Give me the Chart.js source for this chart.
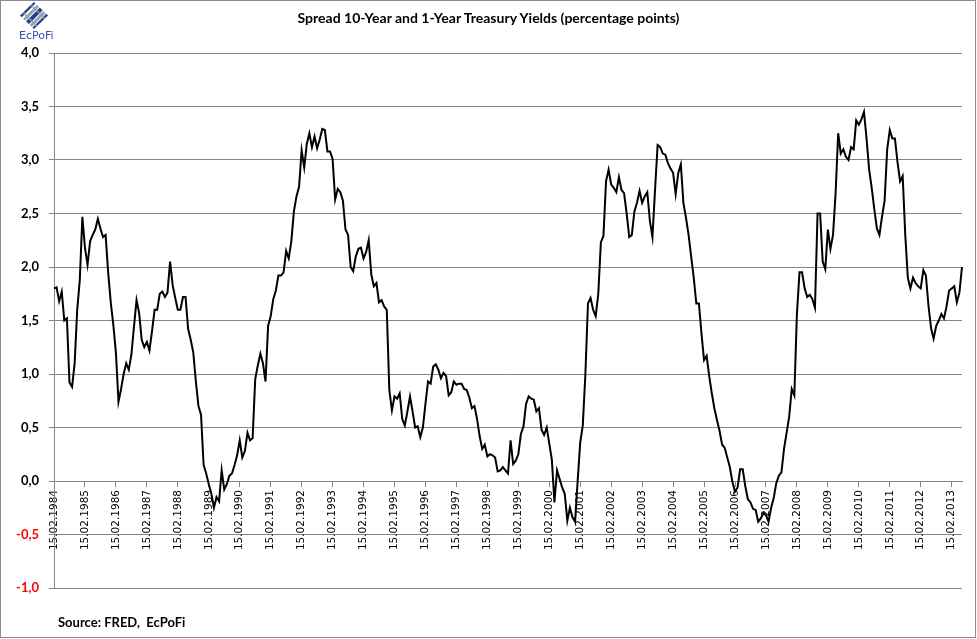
<!DOCTYPE html>
<html lang="en">
<head>
    <meta charset="UTF-8">
    <title>Spread 10-Year and 1-Year Treasury Yields</title>
    <script src="https://cdn.jsdelivr.net/npm/chart.js"></script>
    <style>
        body { margin: 0; background: #fff; }
        #wrap { position: relative; width: 977px; height: 639px; }
        #frame { position: absolute; left: 0; top: 0; width: 974px; height: 636px; border: 1px solid #8c8c8c; }
        #title { position: absolute; top: 9px; left: 0; width: 977px; text-align: center; font: bold 14px Lato, sans-serif; color: #000; }
        #source { position: absolute; left: 58px; top: 614px; font: bold 13px Lato, sans-serif; color: #000; }
        #logo { position: absolute; left: 20px; top: 2px; }
        #logoText { position: absolute; left: 19px; top: 29px; font: 11px "DejaVu Sans", sans-serif; color: #2f52a8; }
        canvas { position: absolute; left: 0; top: 0; }
    </style>
</head>
<body>
<div id="wrap">
    <div id="frame"></div>
    <canvas id="spreadChart" width="977" height="639"></canvas>
    <div id="title">Spread 10-Year and 1-Year Treasury Yields (percentage points)</div>
    <div id="source">Source: FRED,&nbsp; EcPoFi</div>
    <svg id="logo" width="28" height="27" viewBox="0 0 28 27">
        <defs>
            <clipPath id="diamond"><polygon points="14,0 28,13.5 14,27 0,13.5"/></clipPath>
        </defs>
        <g clip-path="url(#diamond)">
            <g transform="rotate(-45 14 13.5)">
                <rect x="-10" y="0" width="48" height="27" fill="#fff"/>
                <rect x="-10" y="2" width="48" height="4" fill="#1f3f95"/>
                <rect x="-10" y="8" width="48" height="3" fill="#9aa3ad"/>
                <rect x="-10" y="12" width="48" height="4" fill="#1f3f95"/>
                <rect x="-10" y="17" width="48" height="3" fill="#9aa3ad"/>
                <rect x="-10" y="21" width="48" height="4" fill="#1f3f95"/>
            </g>
            <g transform="rotate(45 14 13.5)" opacity="0.7">
                <rect x="-10" y="7" width="48" height="2" fill="#9aa3ad"/>
                <rect x="-10" y="18" width="48" height="2" fill="#9aa3ad"/>
            </g>
        </g>
    </svg>
    <div id="logoText">EcPoFi</div>
</div>

<script>
    // one label per year (every 12th monthly point)
    const tickLabels = ['15.02.1984', '15.02.1985', '15.02.1986', '15.02.1987', '15.02.1988', '15.02.1989',
        '15.02.1990', '15.02.1991', '15.02.1992', '15.02.1993', '15.02.1994', '15.02.1995', '15.02.1996',
        '15.02.1997', '15.02.1998', '15.02.1999', '15.02.2000', '15.02.2001', '15.02.2002', '15.02.2003',
        '15.02.2004', '15.02.2005', '15.02.2006', '15.02.2007', '15.02.2008', '15.02.2009', '15.02.2010',
        '15.02.2011', '15.02.2012', '15.02.2013'];

    // spread in percentage points, monthly from Feb 1984
    const spread = [
        1.80, 1.81, 1.68, 1.77, 1.50, 1.52, 0.92, 0.88, 1.10, 1.60, 1.88, 2.47,
        2.18, 2.02, 2.24, 2.30, 2.35, 2.45, 2.36, 2.28, 2.30, 1.95, 1.67, 1.46,
        1.20, 0.74, 0.86, 1.00, 1.10, 1.04, 1.18, 1.44, 1.69, 1.57, 1.32, 1.25,
        1.30, 1.22, 1.40, 1.60, 1.60, 1.75, 1.77, 1.72, 1.76, 2.05, 1.83, 1.71,
        1.60, 1.60, 1.72, 1.72, 1.42, 1.32, 1.20, 0.93, 0.70, 0.62, 0.15, 0.07,
        -0.03, -0.12, -0.25, -0.15, -0.19, 0.10, -0.08, -0.03, 0.05, 0.07, 0.15, 0.24,
        0.38, 0.22, 0.28, 0.45, 0.38, 0.40, 0.95, 1.08, 1.19, 1.10, 0.93, 1.45,
        1.54, 1.70, 1.78, 1.92, 1.92, 1.95, 2.15, 2.08, 2.24, 2.52, 2.66, 2.75,
        3.09, 2.93, 3.15, 3.25, 3.12, 3.22, 3.11, 3.19, 3.29, 3.28, 3.08, 3.08,
        3.01, 2.63, 2.73, 2.70, 2.62, 2.35, 2.30, 2.00, 1.96, 2.10, 2.17, 2.18,
        2.08, 2.14, 2.25, 1.93, 1.82, 1.85, 1.67, 1.69, 1.63, 1.60, 0.85, 0.66,
        0.79, 0.77, 0.82, 0.58, 0.52, 0.65, 0.79, 0.65, 0.50, 0.51, 0.41, 0.50,
        0.72, 0.93, 0.91, 1.07, 1.09, 1.04, 0.96, 1.01, 0.98, 0.80, 0.83, 0.93,
        0.90, 0.91, 0.91, 0.86, 0.85, 0.78, 0.68, 0.70, 0.58, 0.42, 0.30, 0.34,
        0.23, 0.25, 0.24, 0.22, 0.09, 0.10, 0.13, 0.10, 0.07, 0.38, 0.16, 0.19,
        0.25, 0.44, 0.51, 0.72, 0.79, 0.77, 0.76, 0.65, 0.68, 0.48, 0.43, 0.50,
        0.35, 0.20, -0.20, 0.10, 0.02, -0.06, -0.12, -0.37, -0.25, -0.34, -0.38, 0.00,
        0.36, 0.52, 1.00, 1.66, 1.71, 1.60, 1.54, 1.75, 2.23, 2.29, 2.80, 2.91,
        2.77, 2.74, 2.70, 2.84, 2.72, 2.69, 2.50, 2.28, 2.30, 2.52, 2.60, 2.71,
        2.60, 2.66, 2.70, 2.43, 2.28, 2.72, 3.14, 3.12, 3.06, 3.05, 2.97, 2.92,
        2.88, 2.68, 2.88, 2.96, 2.60, 2.46, 2.30, 2.10, 1.90, 1.66, 1.66, 1.38,
        1.13, 1.17, 0.98, 0.82, 0.68, 0.57, 0.47, 0.34, 0.31, 0.22, 0.13, -0.01,
        -0.10, -0.06, 0.11, 0.11, -0.05, -0.17, -0.20, -0.26, -0.27, -0.38, -0.35, -0.30,
        -0.32, -0.38, -0.25, -0.16, -0.02, 0.05, 0.08, 0.30, 0.45, 0.60, 0.86, 0.80,
        1.56, 1.95, 1.95, 1.80, 1.72, 1.74, 1.70, 1.62, 2.50, 2.50, 2.05, 1.98,
        2.35, 2.17, 2.30, 2.69, 3.25, 3.06, 3.10, 3.03, 3.00, 3.12, 3.10, 3.37,
        3.33, 3.38, 3.45, 3.20, 2.91, 2.74, 2.54, 2.36, 2.30, 2.47, 2.62, 3.10,
        3.28, 3.20, 3.20, 2.98, 2.80, 2.85, 2.30, 1.90, 1.80, 1.90, 1.85, 1.82,
        1.80, 1.97, 1.92, 1.64, 1.43, 1.33, 1.45, 1.50, 1.56, 1.52, 1.63, 1.78,
        1.80, 1.82, 1.67, 1.76, 2.00
    ];

    const yMin = -1, yMax = 4, yStep = 0.5;

    // category labels: year label on every 12th month, blank otherwise
    const labels = spread.map((v, i) => (i % 12 === 0 ? tickLabels[i / 12] : ''));

    const gridGrey = '#868686';

    new Chart(document.getElementById('spreadChart'), {
        type: 'line',
        data: {
            labels: labels,
            datasets: [{
                data: spread,
                borderColor: '#000',
                borderWidth: 2,
                pointRadius: 0,
                tension: 0,
                fill: false
            }]
        },
        options: {
            responsive: false,
            animation: false,
            layout: { padding: { top: 53, right: 15, bottom: 51, left: 0 } },
            plugins: {
                legend: { display: false },
                tooltip: { enabled: false }
            },
            scales: {
                x: {
                    type: 'category',
                    position: { y: 0 },
                    offset: false,
                    grid: { drawOnChartArea: false, tickLength: 5, color: gridGrey },
                    border: { color: gridGrey },
                    ticks: {
                        autoSkip: false,
                        maxRotation: 90,
                        minRotation: 90,
                        padding: 4,
                        color: '#000',
                        font: { family: 'DejaVu Sans', size: 10.5 },
                        callback: (v, i) => (labels[i] ? labels[i] : null)
                    }
                },
                y: {
                    min: yMin,
                    max: yMax,
                    grid: { color: gridGrey, tickLength: 5 },
                    border: { color: gridGrey },
                    ticks: {
                        stepSize: yStep,
                        padding: 10,
                        color: c => (c.tick.value < 0 ? '#ff0000' : '#000'),
                        font: { family: 'Lato', weight: 'bold', size: 13 },
                        callback: v => v.toFixed(1).replace('.', ',')
                    },
                    afterFit: s => { s.width = 54; }
                }
            }
        }
    });
</script>
</body>
</html>
